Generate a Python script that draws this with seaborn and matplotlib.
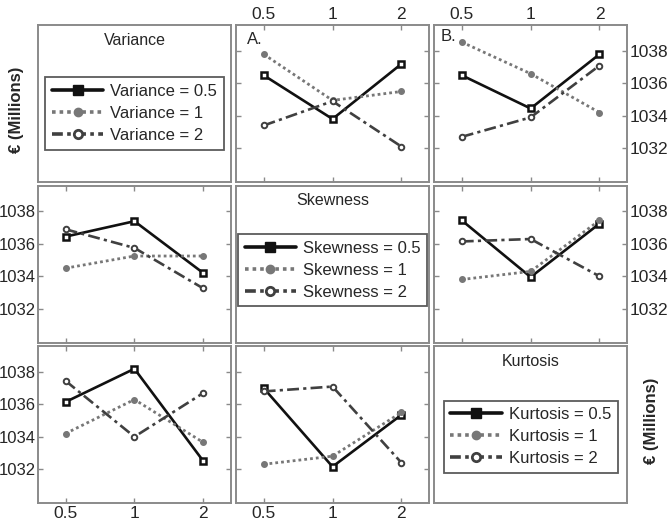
import matplotlib
matplotlib.use("Agg")
import matplotlib.pyplot as plt
from matplotlib.lines import Line2D
import seaborn as sns
import pandas as pd

# ---- data ----
levels = ["0.5", "1", "2"]
factors = ["Variance", "Skewness", "Kurtosis"]
yticks = [1032, 1034, 1036, 1038]

# Panel A: lines = Variance, x = Skewness
var_skew_05 = [1036.5, 1033.8, 1037.2]
var_skew_1 = [1037.8, 1034.95, 1035.5]
var_skew_2 = [1033.4, 1034.9, 1032.1]
# Panel B: lines = Variance, x = Kurtosis
var_kurt_05 = [1036.5, 1034.45, 1037.8]
var_kurt_1 = [1038.55, 1036.6, 1034.2]
var_kurt_2 = [1032.7, 1033.9, 1037.1]
# lines = Skewness, x = Variance
skew_var_05 = [1036.45, 1037.4, 1034.2]
skew_var_1 = [1034.5, 1035.25, 1035.25]
skew_var_2 = [1036.9, 1035.75, 1033.25]
# lines = Skewness, x = Kurtosis
skew_kurt_05 = [1037.45, 1033.95, 1037.25]
skew_kurt_1 = [1033.8, 1034.3, 1037.45]
skew_kurt_2 = [1036.15, 1036.3, 1034.0]
# lines = Kurtosis, x = Variance
kurt_var_05 = [1036.15, 1038.2, 1032.5]
kurt_var_1 = [1034.2, 1036.3, 1033.65]
kurt_var_2 = [1037.45, 1034.0, 1036.7]
# lines = Kurtosis, x = Skewness
kurt_skew_05 = [1037.0, 1032.15, 1035.35]
kurt_skew_1 = [1032.3, 1032.8, 1035.5]
kurt_skew_2 = [1036.8, 1037.1, 1032.4]

panels = {
    (0, 1): [var_skew_05, var_skew_1, var_skew_2],
    (0, 2): [var_kurt_05, var_kurt_1, var_kurt_2],
    (1, 0): [skew_var_05, skew_var_1, skew_var_2],
    (1, 2): [skew_kurt_05, skew_kurt_1, skew_kurt_2],
    (2, 0): [kurt_var_05, kurt_var_1, kurt_var_2],
    (2, 1): [kurt_skew_05, kurt_skew_1, kurt_skew_2],
}

# ---- styles ----
sns.set_theme(style="white")
plt.rcParams["font.family"] = ["Liberation Sans", "DejaVu Sans"]

styles = [
    dict(color="#111111", linestyle="-", linewidth=1.9, marker="s", markersize=5,
         markerfacecolor="white", markeredgecolor="#111111", markeredgewidth=1.8),
    dict(color="#777777", linestyle=(0, (1, 1.1)), linewidth=2.0, marker="o", markersize=4,
         markerfacecolor="#777777", markeredgecolor="#777777", markeredgewidth=1.0),
    dict(color="#404040", linestyle=(0, (4.5, 1.6, 1.2, 1.6)), linewidth=1.9, marker="o", markersize=4,
         markerfacecolor="white", markeredgecolor="#404040", markeredgewidth=1.4),
]
leg_styles = [
    dict(color="#111111", linestyle="-", linewidth=2.6, marker="s", markersize=7,
         markerfacecolor="#111111", markeredgecolor="#111111"),
    dict(color="#777777", linestyle=(0, (1, 1.1)), linewidth=2.6, marker="o", markersize=6,
         markerfacecolor="#777777", markeredgecolor="#777777"),
    dict(color="#404040", linestyle=(0, (3, 1.2, 1, 1.2)), linewidth=2.6, marker="o", markersize=6,
         markerfacecolor="white", markeredgecolor="#404040", markeredgewidth=2),
]

fig, axes = plt.subplots(3, 3, figsize=(6.68, 5.23), dpi=100)
fig.subplots_adjust(left=0.057, right=0.9386, bottom=0.038, top=0.952,
                    wspace=0.028, hspace=0.022)

edge = "#8a8a8a"
for r in range(3):
    for c in range(3):
        ax = axes[r, c]
        for s in ax.spines.values():
            s.set_color(edge)
            s.set_linewidth(1.4)
        ax.set_facecolor("white")
        if r == c:
            ax.set_xticks([])
            ax.set_yticks([])
            ax.text(0.5, 0.905, factors[r], transform=ax.transAxes, ha="center",
                    va="center", fontsize=11.5)
            handles = [Line2D([0], [0], **st) for st in leg_styles]
            labels = [f"{factors[r]} = {lv}" for lv in levels]
            ycen = {0: 0.437, 1: 0.462, 2: 0.423}[r]
            leg = ax.legend(handles, labels, loc="center", bbox_to_anchor=(0.5, ycen),
                            fontsize=12, handlelength=3.1, labelspacing=0.42,
                            handletextpad=0.4, borderpad=0.4, fancybox=False,
                            frameon=True, borderaxespad=0)
            leg.get_frame().set_edgecolor("#333333")
            leg.get_frame().set_linewidth(1.3)
            continue
        series = panels[(r, c)]
        for vals, st in zip(series, styles):
            df = pd.DataFrame({"x": levels, "y": vals})
            sns.lineplot(data=df, x="x", y="y", ax=ax, sort=False, **st)
        ax.set_xlim(-0.4, 2.4)
        ax.set_ylim(1029.9, 1039.6)
        ax.set_yticks(yticks)
        ax.set_xlabel("")
        ax.set_ylabel("")
        ax.tick_params(axis="both", which="both", direction="in", length=3.5,
                       width=1, color=edge, top=True, bottom=True, left=True,
                       right=True, labelsize=12.5, pad=2,
                       labelbottom=False, labeltop=False, labelleft=False,
                       labelright=False)
        if r == 0:
            ax.tick_params(labeltop=True)
        if r == 2:
            ax.tick_params(labelbottom=True)
        if c == 0:
            ax.tick_params(axis="y", labelleft=True, labelsize=12, pad=1.5)
        if c == 2:
            ax.tick_params(labelright=True)

axes[0, 1].text(0.055, 0.955, "A.", transform=axes[0, 1].transAxes, ha="left",
                va="top", fontsize=12)
axes[0, 2].text(0.035, 0.975, "B.", transform=axes[0, 2].transAxes, ha="left",
                va="top", fontsize=12)

fig.text(0.024, 0.79, "€ (Millions)", rotation=90, ha="center", va="center",
         fontsize=12, fontweight="bold")
fig.text(0.975, 0.195, "€ (Millions)", rotation=90, ha="center", va="center",
         fontsize=12, fontweight="bold")

fig.savefig("out.png", dpi=100)
